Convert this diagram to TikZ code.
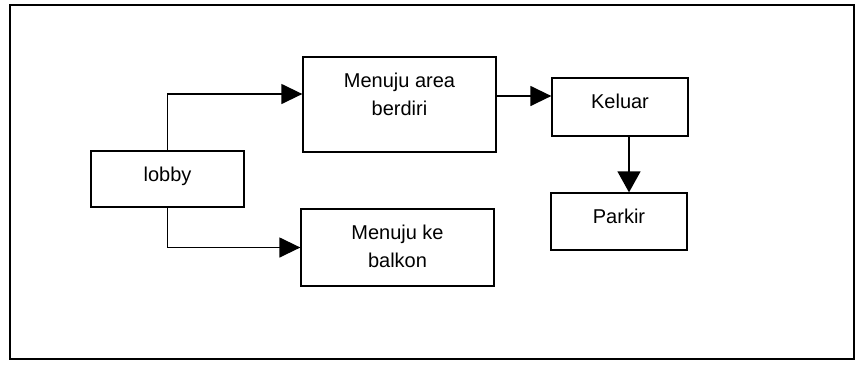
\documentclass[tikz,border=0pt]{standalone}
\usepackage{fontspec}
\setmainfont{Liberation Sans}
\usetikzlibrary{arrows.meta}
\begin{document}
\begin{tikzpicture}[x=1pt,y=-1pt,
  box/.style={draw=black, line width=1.3pt, inner sep=0pt, rectangle},
  lbl/.style={anchor=north, inner sep=0pt, align=center, font=\fontsize{20}{28}\selectfont},
  conn/.style={draw=black, line width=1.4pt, -{Triangle[length=21pt,width=20pt]}},
  frame/.style={draw=black, line width=1.3pt}]
\useasboundingbox (0,0) rectangle (856,370);
\node[frame, rectangle, inner sep=0pt, minimum width=844pt, minimum height=354pt] (frm) at (432,182) {};
\node[box, minimum width=153pt, minimum height=56pt] (lobby) at (167.5,179) {};
\node[box, minimum width=193pt, minimum height=95pt] (area) at (399.5,104.5) {};
\node[box, minimum width=193pt, minimum height=77pt] (balkon) at (397.5,247.5) {};
\node[box, minimum width=136pt, minimum height=58pt] (keluar) at (620,107) {};
\node[box, minimum width=136pt, minimum height=57pt] (parkir) at (619,221.5) {};
\node[lbl] (lobbyt) at ([yshift=-16.5pt]lobby.north) {lobby};
\node[lbl] (areat) at ([yshift=-16.5pt]area.north) {Menuju area\\berdiri};
\node[lbl] (balkont) at ([yshift=-16.5pt]balkon.north) {Menuju ke\\balkon};
\node[lbl] (keluart) at ([yshift=-16.5pt]keluar.north) {Keluar};
\node[lbl] (parkirt) at ([yshift=-16.5pt]parkir.north) {Parkir};
\draw[conn] (lobby.north) |- ([yshift=10.5pt]area.west);
\draw[conn] (lobby.south) |- (balkon.west);
\draw[conn] ([yshift=8.5pt]area.east) -- ([yshift=11pt]keluar.west);
\draw[conn, -{Triangle[length=21pt,width=23pt]}] ([xshift=9pt]keluar.south) -- ([xshift=10pt]parkir.north);
\end{tikzpicture}
\end{document}
